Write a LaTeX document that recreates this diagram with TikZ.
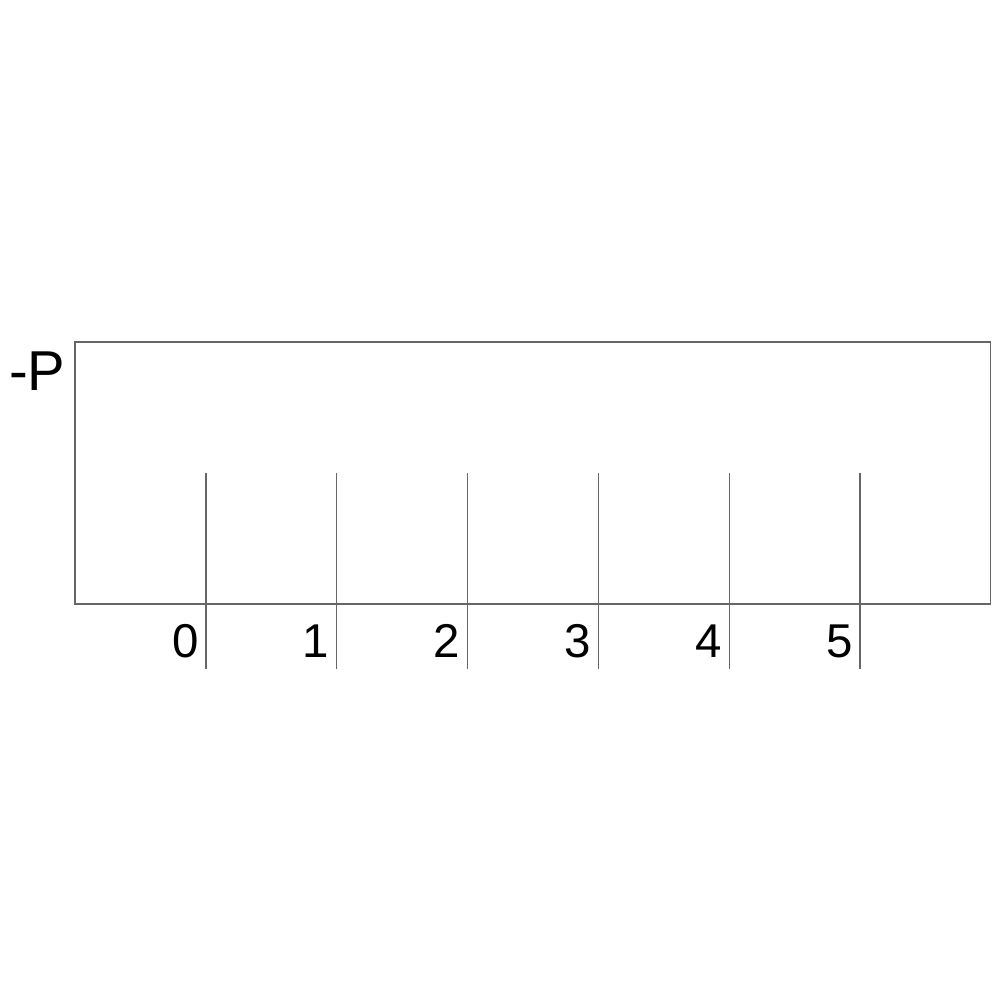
\documentclass[tikz,border=0pt]{standalone}
\usepackage{fontspec}
\setmainfont{Liberation Sans}
\usetikzlibrary{positioning}

\begin{document}
\begin{tikzpicture}[line width=0.3pt]

    % --- 1. Frame (fixes the page size) ---
    \useasboundingbox (0, 0) rectangle (10, 10);

    % Terminal block outline
    \def\xl{0.75}
    \def\xr{9.90}
    \def\yb{3.96}
    \def\yt{6.58}

    \draw[gray!80!black] (\xl, \yb) rectangle (\xr, \yt);

    % --- 2. Designation ---
    \node[anchor=east, inner sep=0pt, font=\fontsize{16}{18}\selectfont] (desig) at (0.66, 6.29) {-P};

    % --- 3. Terminals 0..5 ---
    \foreach \i in {0,...,5} {
        \pgfmathsetmacro{\xp}{2.06 + 1.308*\i}
        \draw[gray!80!black] (\xp, 5.27) -- (\xp, 3.31);
        \node[anchor=east, inner sep=0pt, font=\fontsize{13.5}{15}\selectfont] (term\i) at (\xp - 0.07, 3.59) {\i};
    }

\end{tikzpicture}
\end{document}
